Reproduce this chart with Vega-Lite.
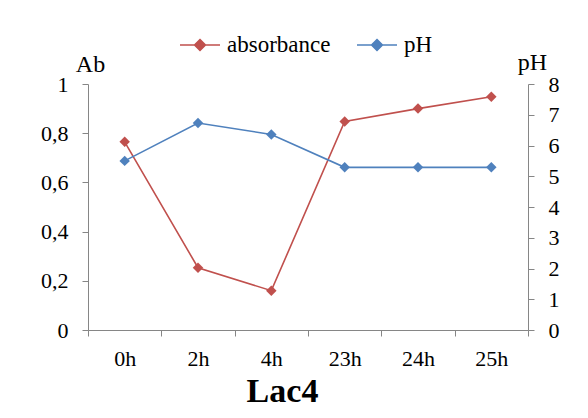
{
  "$schema": "https://vega.github.io/schema/vega-lite/v6.json",
  "width": 440,
  "height": 246,
  "autosize": {"type": "none"},
  "padding": {"left": 88, "top": 84, "right": 60, "bottom": 88},
  "background": "white",
  "config": {
    "font": "Liberation Serif, Times New Roman, serif",
    "view": {"stroke": null},
    "style": {
      "guide-label": {"font": "Liberation Serif, Times New Roman, serif"},
      "guide-title": {"font": "Liberation Serif, Times New Roman, serif"}
    },
    "legend": {"labelFont": "Liberation Serif, Times New Roman, serif", "titleFont": "Liberation Serif, Times New Roman, serif"},
    "axis": {
      "grid": false,
      "domainColor": "#868686",
      "tickColor": "#868686",
      "tickSize": 6,
      "labelColor": "#000000",
      "titleColor": "#000000",
      "labelFont": "Liberation Serif, Times New Roman, serif",
      "titleFont": "Liberation Serif, Times New Roman, serif",
      "labelFontSize": 22
    }
  },
  "data": {
    "values": [
      {"time": "0h", "series": "absorbance", "value": 0.765},
      {"time": "2h", "series": "absorbance", "value": 0.253},
      {"time": "4h", "series": "absorbance", "value": 0.16},
      {"time": "23h", "series": "absorbance", "value": 0.848},
      {"time": "24h", "series": "absorbance", "value": 0.90},
      {"time": "25h", "series": "absorbance", "value": 0.948},
      {"time": "0h", "series": "pH", "value": 5.5},
      {"time": "2h", "series": "pH", "value": 6.73},
      {"time": "4h", "series": "pH", "value": 6.36},
      {"time": "23h", "series": "pH", "value": 5.29},
      {"time": "24h", "series": "pH", "value": 5.29},
      {"time": "25h", "series": "pH", "value": 5.29}
    ]
  },
  "encoding": {
    "x": {
      "field": "time",
      "type": "nominal",
      "sort": ["0h", "2h", "4h", "23h", "24h", "25h"],
      "scale": {"type": "band", "paddingInner": 0, "paddingOuter": 0},
      "axis": {
        "title": "Lac4",
        "labelAngle": 0,
        "tickBand": "extent",
        "labelPadding": 12,
        "titleFontSize": 34,
        "titleFontWeight": "bold",
        "titleX": 194,
        "titleY": 71,
        "titleAlign": "center",
        "titleBaseline": "alphabetic"
      }
    },
    "color": {
      "field": "series",
      "type": "nominal",
      "scale": {"domain": ["absorbance", "pH"], "range": ["#C0504D", "#4F81BD"]},
      "legend": {
        "title": null,
        "orient": "none",
        "direction": "horizontal",
        "legendX": 91,
        "legendY": -60,
        "labelFontSize": 23,
        "labelColor": "#000000",
        "labelOffset": 6,
        "columnPadding": 22,
        "symbolType": "M-1,0L1,0M0,-0.27L0.27,0L0,0.27L-0.27,0Z",
        "symbolSize": 1600,
        "symbolStrokeWidth": 1.6,
        "encode": {
          "symbols": {
            "update": {
              "stroke": {"scale": "color", "field": "value"},
              "fill": {"scale": "color", "field": "value"},
              "opacity": {"value": 1}
            }
          }
        }
      }
    }
  },
  "layer": [
    {
      "transform": [{"filter": "datum.series === 'absorbance'"}],
      "encoding": {
        "y": {
          "field": "value",
          "type": "quantitative",
          "scale": {"domain": [0, 1], "nice": false},
          "axis": {
            "title": "Ab",
            "values": [0, 0.2, 0.4, 0.6, 0.8, 1],
            "labelExpr": "replace(format(datum.value, '~g'), '.', ',')",
            "labelPadding": 14,
            "titleAngle": 0,
            "titleX": 2,
            "titleY": -13,
            "titleAlign": "center",
            "titleBaseline": "alphabetic",
            "titleFontSize": 24,
            "titleFontWeight": "normal"
          }
        }
      },
      "layer": [
        {"mark": {"type": "line", "strokeWidth": 1.6}},
        {"mark": {"type": "point", "shape": "diamond", "filled": true, "size": 110, "opacity": 1}}
      ]
    },
    {
      "transform": [{"filter": "datum.series === 'pH'"}],
      "encoding": {
        "y": {
          "field": "value",
          "type": "quantitative",
          "scale": {"domain": [0, 8], "nice": false},
          "axis": {
            "title": "pH",
            "orient": "right",
            "values": [0, 1, 2, 3, 4, 5, 6, 7, 8],
            "labelPadding": 14,
            "titleAngle": 0,
            "titleX": 4,
            "titleY": -15,
            "titleAlign": "center",
            "titleBaseline": "alphabetic",
            "titleFontSize": 24,
            "titleFontWeight": "normal"
          }
        }
      },
      "layer": [
        {"mark": {"type": "line", "strokeWidth": 1.6}},
        {"mark": {"type": "point", "shape": "diamond", "filled": true, "size": 110, "opacity": 1}}
      ]
    }
  ],
  "resolve": {"scale": {"y": "independent"}}
}
